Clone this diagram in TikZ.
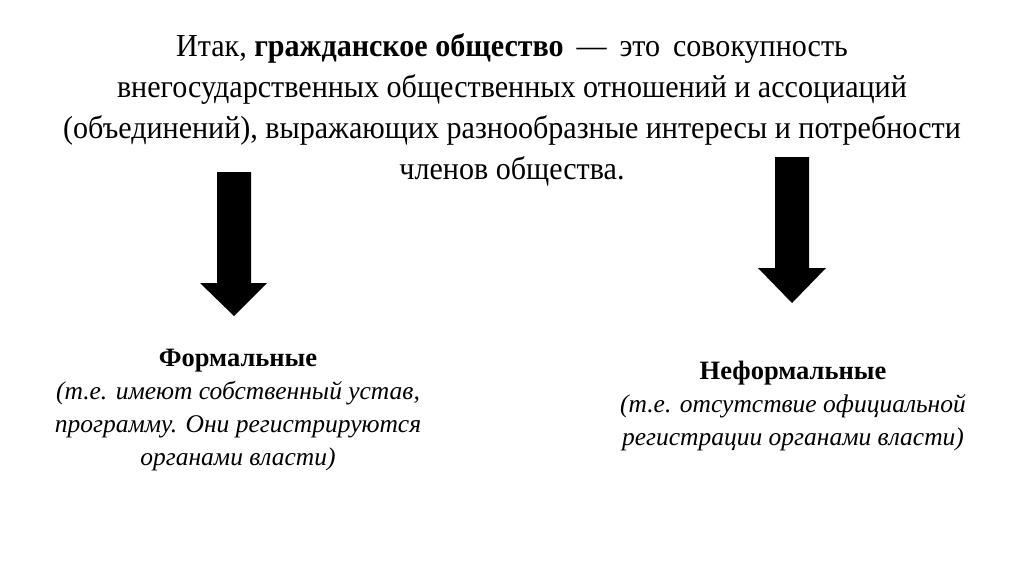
\documentclass[tikz,border=0pt]{standalone}
\usepackage{fontspec}
\setmainfont{Liberation Serif}
\newfontfamily\titlefont[FakeStretch=0.94]{Liberation Serif}
\tikzset{
  titletext/.style={align=center, inner sep=0pt, font=\titlefont\fontsize{32}{41}\selectfont},
  subtext/.style={align=center, inner sep=0pt, font=\fontsize{25.5}{33}\selectfont},
  bigarrow/.style={fill=black}
}
\begin{document}
\begin{tikzpicture}[x=1pt,y=-1pt]
\useasboundingbox[fill=white] (0,0) rectangle (1024,574);
\node[titletext, anchor=center] (title) at (512,110) {Итак, \textbf{гражданское общество} \,—\, это\, совокупность\\
внегосударственных общественных отношений и ассоциаций\\
(объединений), выражающих разнообразные интересы и потребности\\
членов общества.};
\fill[bigarrow] (217,172) -- (251,172) -- (251,283) -- (267,283) -- (234,316) -- (200,283) -- (217,283) -- cycle;
\fill[bigarrow] (775,157) -- (809,157) -- (809,268) -- (826,268) -- (792,303) -- (758,268) -- (775,268) -- cycle;
\node[subtext] (formal) at (238,410) {{\fontsize{26.5}{33}\selectfont\textbf{Формальные}}\\
\textit{(т.е. имеют собственный устав,}\\
\textit{программу. Они регистрируются}\\
\textit{органами власти)}};
\node[subtext] (informal) at (793,406) {{\fontsize{26.5}{33}\selectfont\textbf{Неформальные}}\\
\textit{(т.е. отсутствие официальной}\\
\textit{регистрации органами власти)}};
\end{tikzpicture}
\end{document}
